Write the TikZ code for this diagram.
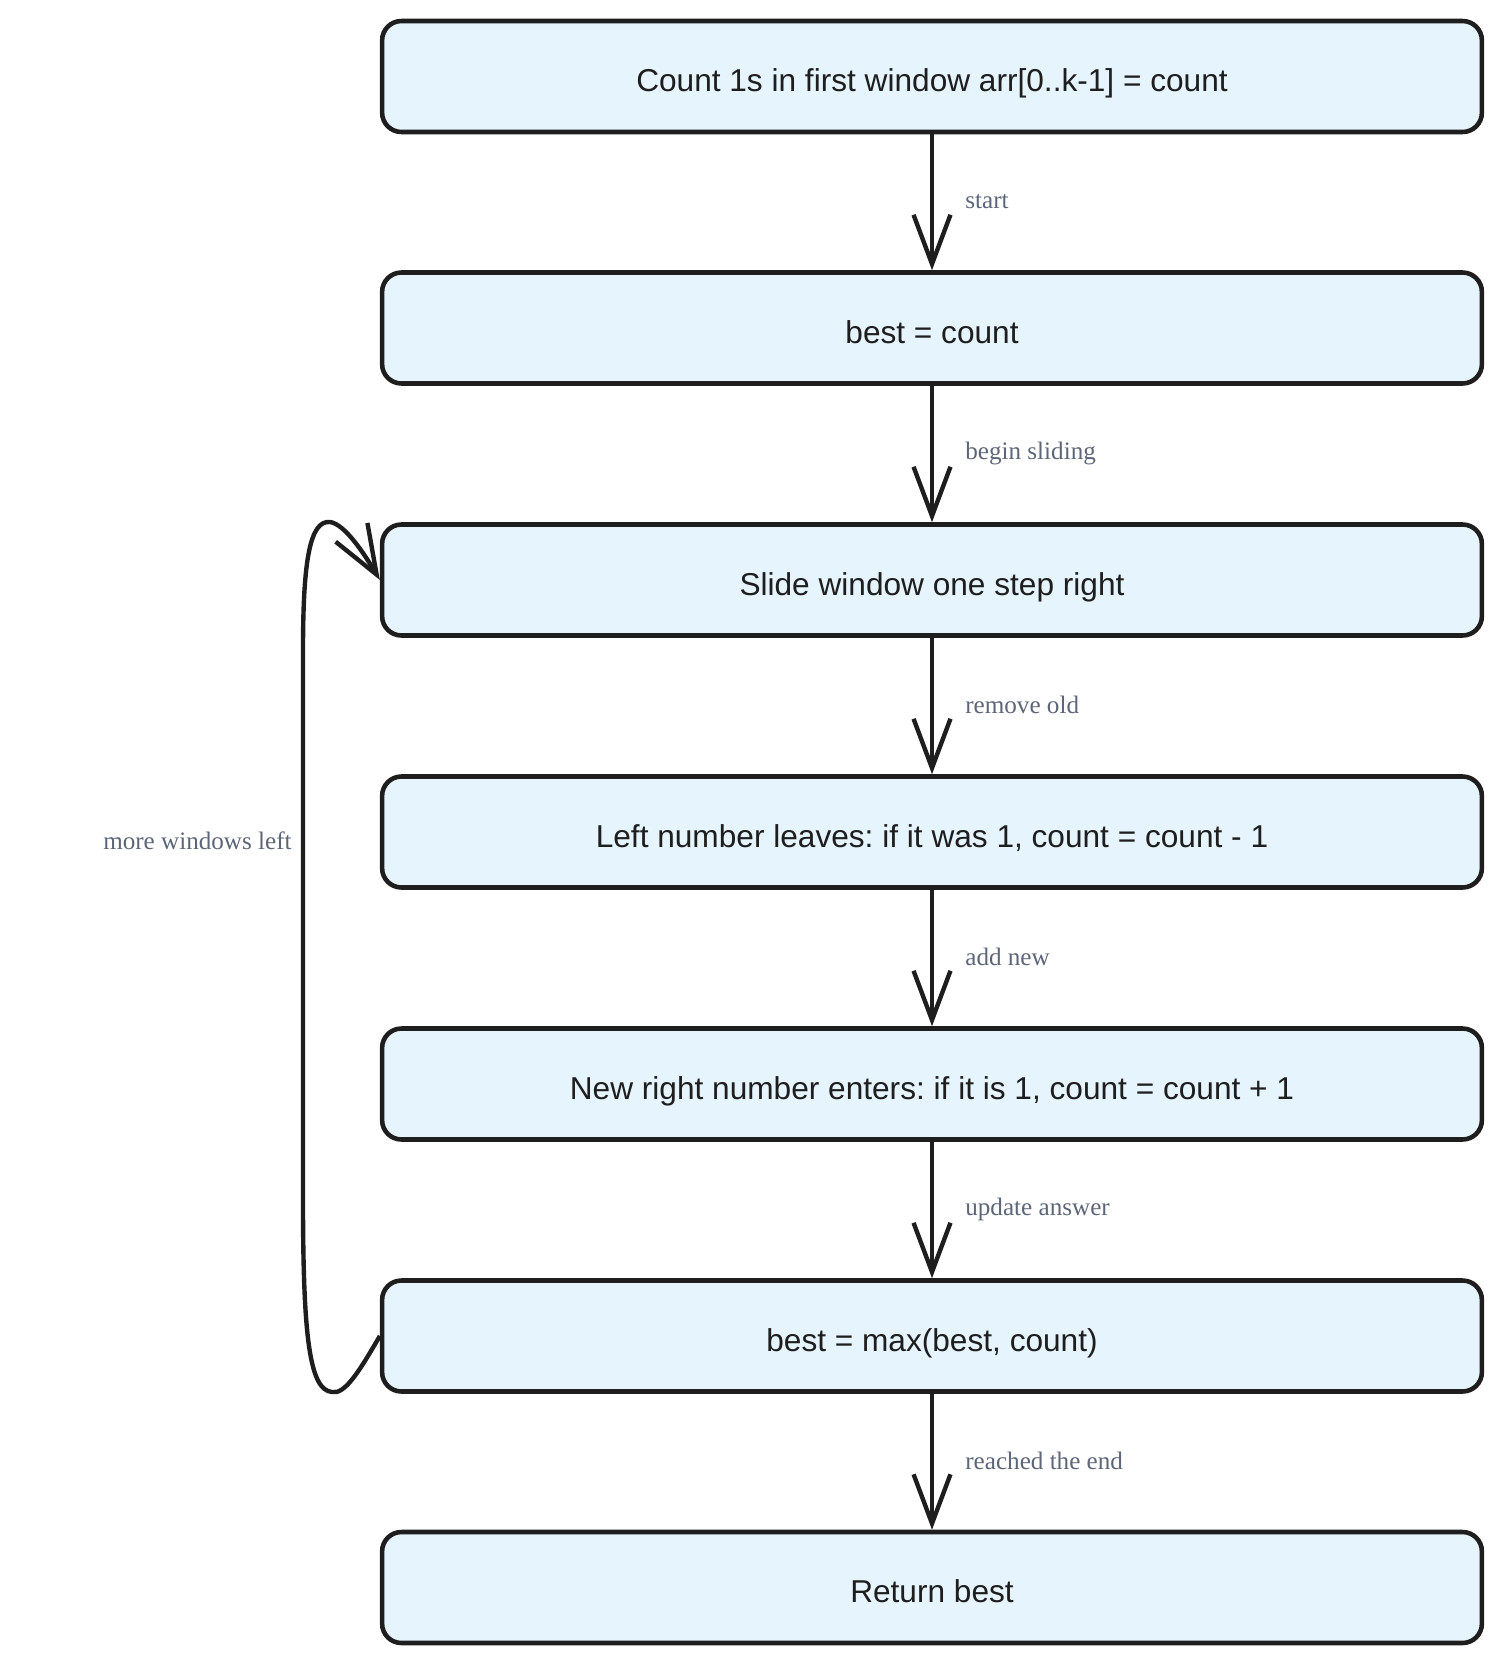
\documentclass[tikz,border=0pt]{standalone}
\usepackage{fontspec}
\setmainfont{Liberation Serif}
\newfontfamily\boxfont{Liberation Sans}
\usetikzlibrary{arrows.meta}
\definecolor{boxfill}{HTML}{E6F4FD}
\definecolor{ink}{HTML}{1E1E1E}
\definecolor{lbl}{HTML}{5D6678}
\frenchspacing
\begin{document}
\begin{tikzpicture}[x=0.02cm,y=-0.02cm,
  flowbox/.style={draw=ink, line width=2.6pt, fill=boxfill, rounded corners=11pt,
    minimum width=22cm, minimum height=2.22cm, inner sep=0pt,
    text height=17.6pt, text depth=0pt,
    font=\boxfont\fontsize{18}{22}\selectfont, text=ink},
  flow/.style={draw=ink, line width=2.5pt,
    -{Straight Barb[length=28pt,width=21pt,line width=2.5pt]}},
  elabel/.style={font=\fontsize{14.3}{17}\selectfont, text=lbl, anchor=west, inner sep=0pt}]
\useasboundingbox (0,0) rectangle (1502,1664);

\node[flowbox] (b1) at (932,76.5) {Count 1s in first window arr[0..k-1] = count};
\node[flowbox] (b2) at (932,328) {best = count};
\node[flowbox] (b3) at (932,580) {Slide window one step right};
\node[flowbox] (b4) at (932,832) {Left number leaves: if it was 1, count = count - 1};
\node[flowbox] (b5) at (932,1084) {New right number enters: if it is 1, count = count + 1};
\node[flowbox] (b6) at (932,1336) {best = max(best, count)};
\node[flowbox] (b7) at (932,1587.5) {Return best};

\draw[flow] (b1) -- (b2);
\draw[flow] (b2) -- (b3);
\draw[flow] (b3) -- (b4);
\draw[flow] (b4) -- (b5);
\draw[flow] (b5) -- (b6);
\draw[flow] (b6) -- (b7);

\node[elabel] (l1) at (965,202) {start};
\node[elabel] (l2) at (965,453) {begin sliding};
\node[elabel] (l3) at (965,705) {remove old};
\node[elabel] (l4) at (965,957) {add new};
\node[elabel] (l5) at (965,1209) {update answer};
\node[elabel] (l6) at (965,1461) {reached the end};

\draw[flow] (b6.west) .. controls (360,1370) and (345,1395) .. (332,1392)
  .. controls (310,1390) and (303,1340) .. (303,1200) -- (303,650)
  .. controls (303,560) and (310,520) .. (330,522)
  .. controls (345,524) and (365,555) .. (b3.west);
\node[elabel, anchor=east] (l7) at (292,841) {more windows left};
\end{tikzpicture}
\end{document}
